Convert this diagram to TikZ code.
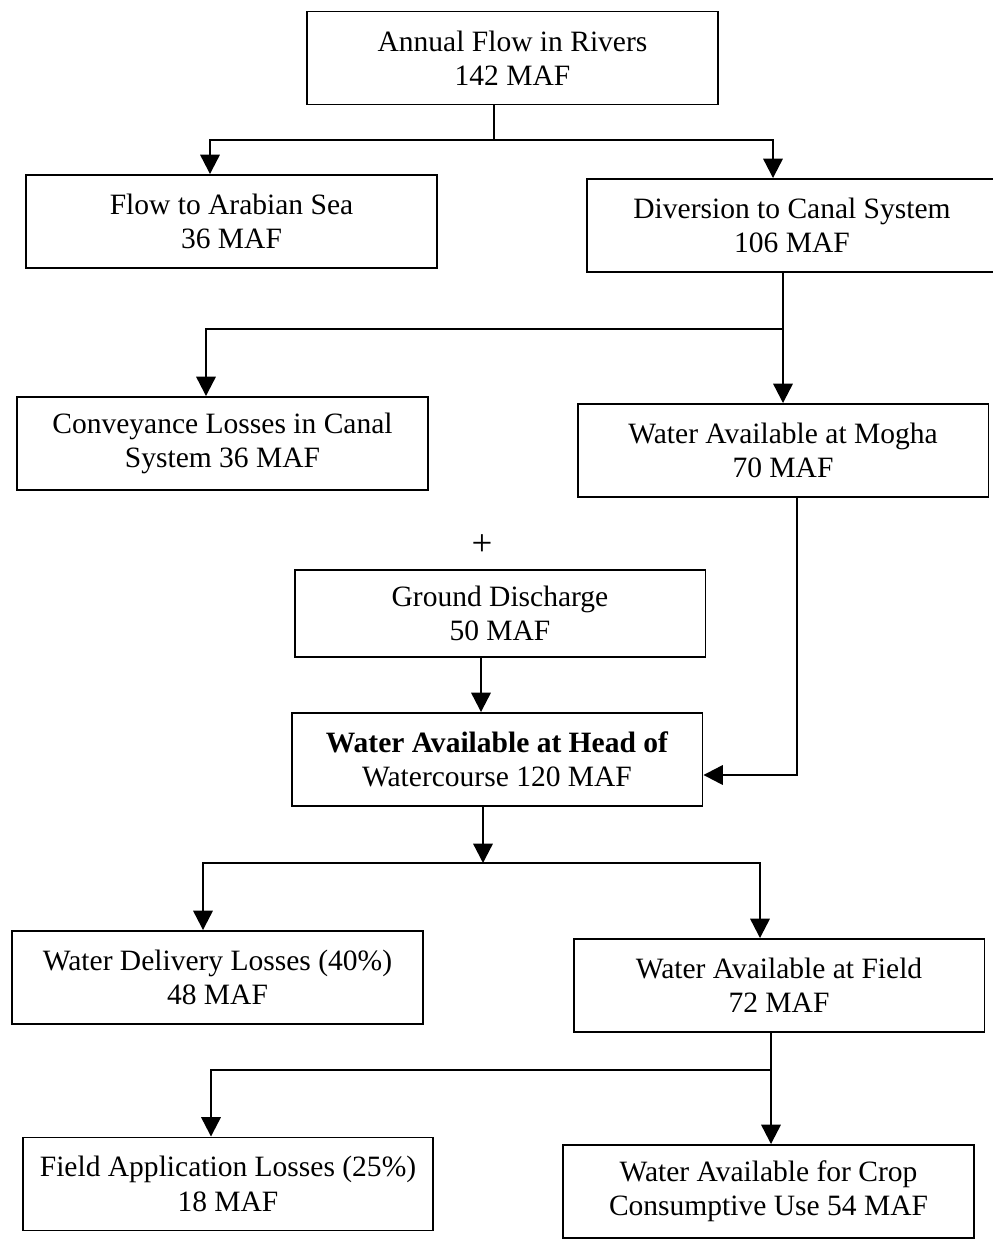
\documentclass[tikz,border=0pt]{standalone}
\usepackage{fontspec}
\setmainfont{Liberation Serif}
\usetikzlibrary{arrows.meta}
\begin{document}
\begin{tikzpicture}
	[x=0.02cm,y=-0.02cm,
	 flowbox/.style={draw,rectangle,line width=1.1pt,align=center,minimum width=8.22cm,minimum height=1.86cm,font=\fontsize{16.8}{19.5}\selectfont},
	 link/.style={line width=1.3pt,-{Triangle[length=11pt,width=11pt]}}] % pixel grid of the scan, y downwards
	
	\useasboundingbox (0,0) rectangle (993,1240);
	
	\node[flowbox] (flow) at (512.5,58) {Annual Flow in Rivers\\142 MAF};
	\node[flowbox] (sea) at (231.5,221.5) {Flow to Arabian Sea\\36 MAF};
	\node[flowbox] (canal) at (792,225.5) {Diversion to Canal System\\106 MAF};
	\node[flowbox] (convey) at (222.5,443.5) {Conveyance Losses in Canal\\System 36 MAF};
	\node[flowbox] (mogha) at (783,450.5) {Water Available at Mogha\\70 MAF};
	\node[font=\fontsize{21}{22}\selectfont] (plus) at (482,545) {+};
	\node[flowbox,minimum height=1.74cm] (ground) at (500,613.5) {Ground Discharge\\50 MAF};
	\node[flowbox] (head) at (497,759.5) {\textbf{Water Available at Head of}\\Watercourse 120 MAF};
	\node[flowbox] (deliv) at (217.5,977.5) {Water Delivery Losses (40\%)\\48 MAF};
	\node[flowbox] (field) at (779,985.5) {Water Available at Field\\72 MAF};
	\node[flowbox] (appl) at (228,1184) {Field Application Losses (25\%)\\18 MAF};
	\node[flowbox] (crop) at (768.5,1191.5) {Water Available for Crop\\Consumptive Use 54 MAF};
	
	% branch points
	\coordinate (s1) at (494,140);
	\coordinate (b1) at (210,140);
	\coordinate (c1) at (773,140);
	\coordinate (s2) at (783,329);
	\coordinate (d1) at (206,329);
	\coordinate (e1) at (797,775);
	\coordinate (f1) at (481,690);
	\coordinate (s3) at (483,863);
	\coordinate (h1) at (203,863);
	\coordinate (i1) at (760,863);
	\coordinate (s4) at (771,1070);
	\coordinate (j1) at (211,1070);
	
	\draw [line width=1.3pt] (s1 |- flow.south) -- (s1);
	\draw [link] (s1) -- (b1) -- (b1 |- sea.north);
	\draw [link] (s1) -- (c1) -- (c1 |- canal.north);
	
	\draw [link] (s2 |- canal.south) -- (s2 |- mogha.north);
	\draw [link] (s2) -- (d1) -- (d1 |- convey.north);
	
	\draw [link] (e1 |- mogha.south) -- (e1) -- (e1 -| head.east);
	\draw [link] (f1 |- ground.south) -- (f1 |- head.north);
	
	\draw [link] (s3 |- head.south) -- (s3);
	\draw [link] (s3) -- (h1) -- (h1 |- deliv.north);
	\draw [link] (s3) -- (i1) -- (i1 |- field.north);
	
	\draw [link] (s4 |- field.south) -- (s4 |- crop.north);
	\draw [link] (s4) -- (j1) -- (j1 |- appl.north);
	
\end{tikzpicture}
\end{document}
